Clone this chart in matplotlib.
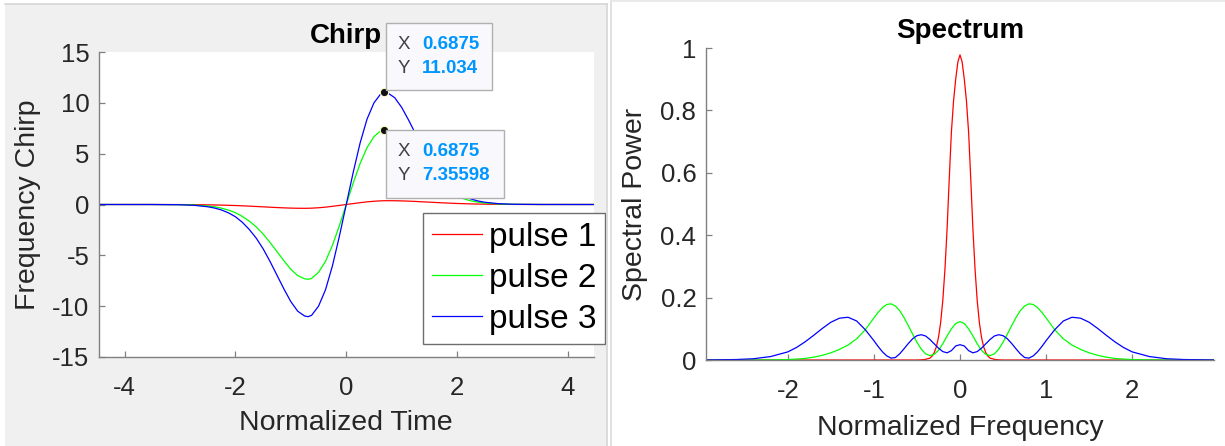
import matplotlib
matplotlib.use("Agg")
import matplotlib.pyplot as plt
from matplotlib.patches import Rectangle
from matplotlib.lines import Line2D
from matplotlib.transforms import IdentityTransform

plt.rcParams['font.family'] = ['Liberation Sans', 'DejaVu Sans']
plt.rcParams['axes.unicode_minus'] = False

# ---- chirp data ----
t_chirp = [-4.46, -3.5, -3.0, -2.75, -2.5, -2.375, -2.25, -2.125, -2.0, -1.875,
           -1.75, -1.625, -1.5, -1.375, -1.25, -1.125, -1.0, -0.875, -0.75, -0.6875,
           -0.625, -0.5, -0.375, -0.25, -0.125, 0.0,
           0.125, 0.25, 0.375, 0.5, 0.625, 0.6875, 0.75, 0.875, 1.0, 1.125,
           1.25, 1.375, 1.5, 1.625, 1.75, 1.875, 2.0, 2.125, 2.25, 2.375,
           2.5, 2.75, 3.0, 3.5, 4.46]
chirp_p1 = [0, -0.001, -0.006, -0.015, -0.033, -0.045, -0.06, -0.08, -0.1, -0.13,
            -0.16, -0.195, -0.23, -0.265, -0.3, -0.33, -0.355, -0.37, -0.375, -0.37,
            -0.36, -0.32, -0.26, -0.18, -0.09, 0.0,
            0.09, 0.18, 0.26, 0.32, 0.36, 0.37, 0.375, 0.37, 0.355, 0.33,
            0.3, 0.265, 0.23, 0.195, 0.16, 0.13, 0.1, 0.08, 0.06, 0.045,
            0.033, 0.015, 0.006, 0.001, 0]
chirp_p2 = [0, -0.001, -0.017, -0.053, -0.15, -0.23, -0.36, -0.55, -0.8, -1.17,
            -1.63, -2.2, -2.9, -3.73, -4.63, -5.53, -6.37, -7.0, -7.31, -7.35598,
            -7.27, -6.67, -5.6, -4.03, -2.1, 0.0,
            2.1, 4.03, 5.6, 6.67, 7.27, 7.35598, 7.31, 7.0, 6.37, 5.53,
            4.63, 3.73, 2.9, 2.2, 1.63, 1.17, 0.8, 0.55, 0.36, 0.23,
            0.15, 0.053, 0.017, 0.001, 0]
chirp_p3 = [0, -0.002, -0.025, -0.08, -0.22, -0.35, -0.54, -0.82, -1.2, -1.75,
            -2.45, -3.3, -4.35, -5.6, -6.95, -8.3, -9.55, -10.5, -10.97, -11.034,
            -10.9, -10.0, -8.4, -6.05, -3.15, 0.0,
            3.15, 6.05, 8.4, 10.0, 10.9, 11.034, 10.97, 10.5, 9.55, 8.3,
            6.95, 5.6, 4.35, 3.3, 2.45, 1.75, 1.2, 0.82, 0.54, 0.35,
            0.22, 0.08, 0.025, 0.002, 0]

# datatips
tip_x = [0.6875, 0.6875]
tip_y = [11.034, 7.35598]
tip_xtxt = ['0.6875', '0.6875']
tip_ytxt = ['11.034', '7.35598']

# ---- spectrum data ----
f_spec = [-2.95, -2.6, -2.4, -2.2, -2.0, -1.9, -1.8, -1.7, -1.6, -1.5,
          -1.4, -1.3, -1.2, -1.1, -1.0, -0.95, -0.9, -0.85, -0.8, -0.75,
          -0.7, -0.65, -0.6, -0.55, -0.5, -0.45, -0.4, -0.35, -0.3, -0.25,
          -0.2, -0.15, -0.1, -0.05, 0.0,
          0.05, 0.1, 0.15, 0.2, 0.25, 0.3, 0.35, 0.4, 0.45, 0.5,
          0.55, 0.6, 0.65, 0.7, 0.75, 0.8, 0.85, 0.9, 0.95, 1.0,
          1.1, 1.2, 1.3, 1.4, 1.5, 1.6, 1.7, 1.8, 1.9, 2.0,
          2.2, 2.4, 2.6, 2.95]
# pulse 1 is narrow, so it is read on a finer grid
f_red = [-2.95, -0.5, -0.45, -0.4, -0.35, -0.325, -0.3, -0.275, -0.25, -0.225,
         -0.2, -0.175, -0.15, -0.125, -0.1, -0.075, -0.05, -0.025, 0.0,
         0.025, 0.05, 0.075, 0.1, 0.125, 0.15, 0.175, 0.2, 0.225, 0.25,
         0.275, 0.3, 0.325, 0.35, 0.4, 0.45, 0.5, 2.95]
spec_p1 = [0, 0, 0.0005, 0.002, 0.006, 0.012, 0.023, 0.042, 0.072, 0.12,
           0.19, 0.29, 0.42, 0.58, 0.73, 0.83, 0.9, 0.955, 0.978,
           0.955, 0.9, 0.83, 0.73, 0.58, 0.42, 0.29, 0.19, 0.12, 0.072,
           0.042, 0.023, 0.012, 0.006, 0.002, 0.0005, 0, 0]
spec_p2 = [0, 0, 0.0001, 0.0004, 0.0015, 0.003, 0.005, 0.009, 0.015, 0.023,
           0.034, 0.048, 0.068, 0.097, 0.135, 0.153, 0.168, 0.178, 0.18, 0.173,
           0.158, 0.136, 0.11, 0.083, 0.057, 0.035, 0.02, 0.014, 0.018, 0.031,
           0.052, 0.077, 0.1, 0.117, 0.123,
           0.117, 0.1, 0.077, 0.052, 0.031, 0.018, 0.014, 0.02, 0.035, 0.057,
           0.083, 0.11, 0.136, 0.158, 0.173, 0.18, 0.178, 0.168, 0.153, 0.135,
           0.097, 0.068, 0.048, 0.034, 0.023, 0.015, 0.009, 0.005, 0.003, 0.0015,
           0.0004, 0.0001, 0, 0]
spec_p3 = [0.0002, 0.0015, 0.004, 0.011, 0.026, 0.04, 0.058, 0.079, 0.101, 0.121,
           0.134, 0.137, 0.125, 0.097, 0.062, 0.043, 0.026, 0.013, 0.006, 0.008,
           0.02, 0.036, 0.053, 0.068, 0.078, 0.081, 0.077, 0.066, 0.052, 0.038,
           0.027, 0.023, 0.03, 0.045, 0.049,
           0.045, 0.03, 0.023, 0.027, 0.038, 0.052, 0.066, 0.077, 0.081, 0.078,
           0.068, 0.053, 0.036, 0.02, 0.008, 0.006, 0.013, 0.026, 0.043, 0.062,
           0.097, 0.125, 0.137, 0.134, 0.121, 0.101, 0.079, 0.058, 0.04, 0.026,
           0.011, 0.004, 0.0015, 0.0002]

labels = ['pulse 1', 'pulse 2', 'pulse 3']
colors = ['#ff0000', '#00ff00', '#0000ff']

chirp_yticks = [-15, -10, -5, 0, 5, 10, 15]
chirp_xticks = [-4, -2, 0, 2, 4]
spec_xticks = [-2, -1, 0, 1, 2]
spec_yticks = [0, 0.2, 0.4, 0.6, 0.8, 1]
spec_yticklabels = ['0', '0.2', '0.4', '0.6', '0.8', '1']

W, H = 1225, 446
TXT = '#262626'
AXC = '#808080'

fig = plt.figure(figsize=(W / 100, H / 100), dpi=100, facecolor='white')

# grey panel behind the left plot + thin window borders
fig.patches.append(Rectangle((5 / W, 0), 602 / W, 442 / H, transform=fig.transFigure,
                             facecolor='#f0f0f0', edgecolor='none', zorder=-10))
fig.add_artist(Line2D([5 / W, 607 / W], [442 / H, 442 / H], color='#d6d6d6', lw=1.2))
fig.add_artist(Line2D([607 / W, 607 / W], [0, 442 / H], color='#d6d6d6', lw=1.2))
fig.add_artist(Line2D([610.5 / W, 610.5 / W], [0, 445 / H], color='#dcdcdc', lw=1.2))
fig.add_artist(Line2D([610.5 / W, 1], [445 / H, 445 / H], color='#e6e6e6', lw=1.2))


def style_axes(ax):
    ax.set_facecolor('white')
    for s in ['top', 'right']:
        ax.spines[s].set_visible(False)
    for s in ['left', 'bottom']:
        ax.spines[s].set_color(AXC)
        ax.spines[s].set_linewidth(1.0)
    ax.tick_params(direction='in', length=4, width=0.9, color=AXC,
                   labelsize=18.5, labelcolor=TXT)
    ax.tick_params(axis='y', pad=7)
    ax.tick_params(axis='x', pad=14)


# ---------------- Chirp ----------------
ax1 = fig.add_axes([99 / W, 89 / H, 494.5 / W, 305 / H])
style_axes(ax1)
for y, c, lab in zip([chirp_p1, chirp_p2, chirp_p3], colors, labels):
    ax1.plot(t_chirp, y, color=c, lw=0.9, label=lab)
ax1.set_xlim(-4.46, 4.46)
ax1.set_ylim(-15, 15)
ax1.set_xticks(chirp_xticks)
ax1.set_yticks(chirp_yticks)
ax1.set_xlabel('Normalized Time', fontsize=20.5, color=TXT)
ax1.set_ylabel('Frequency Chirp', fontsize=20.5, color=TXT)
ax1.xaxis.set_label_coords(0.5, -0.174)
ax1.yaxis.set_label_coords(-0.117, 0.5)
ax1.set_title('Chirp', fontsize=20, fontweight='bold', pad=6.7)

leg = ax1.legend(loc='upper left', bbox_to_anchor=(423 / W, 1 - 213 / H),
                 bbox_transform=fig.transFigure, fontsize=24, fancybox=False,
                 framealpha=1, edgecolor='#6e6e6e', borderaxespad=0,
                 borderpad=0.27, handlelength=1.5, handletextpad=0.2,
                 labelspacing=0.3)
leg.get_frame().set_linewidth(1.0)

# datatips
ax1.plot(tip_x, tip_y, 'o', color='#111111', ms=6, mec='#ffffc8', mew=0.8, zorder=6)
for i in range(len(tip_x)):
    px, py = ax1.transData.transform((tip_x[i], tip_y[i]))
    if i == 0:
        bx, by, bw, bh = px + 2, py + 2.7, 106, 67
    else:
        bx, by, bw, bh = px + 2, py - 68, 118, 68
    fig.add_artist(Rectangle((bx, by), bw, bh, transform=IdentityTransform(),
                             facecolor='#f9f9fd', edgecolor='#b0b0b0', lw=1.0, zorder=7))
    top = by + bh
    for row, (name, val) in enumerate([('X', tip_xtxt[i]), ('Y', tip_ytxt[i])]):
        yb = top - 26.5 - 24 * row
        fig.text(bx + 11, yb, name, transform=IdentityTransform(), fontsize=13.5,
                 color='#404040', va='baseline', ha='left', zorder=8)
        fig.text(bx + 35.5, yb, val, transform=IdentityTransform(), fontsize=13.5,
                 color='#0096ff', fontweight='bold', va='baseline', ha='left', zorder=8)

# ---------------- Spectrum ----------------
ax2 = fig.add_axes([706 / W, 86 / H, 508 / W, 312 / H])
style_axes(ax2)
ax2.plot(f_red, spec_p1, color=colors[0], lw=0.9)
ax2.plot(f_spec, spec_p2, color=colors[1], lw=0.9)
ax2.plot(f_spec, spec_p3, color=colors[2], lw=0.9)
ax2.set_xlim(-2.95, 2.95)
ax2.set_ylim(0, 1)
ax2.set_xticks(spec_xticks)
ax2.set_yticks(spec_yticks)
ax2.set_yticklabels(spec_yticklabels)
ax2.set_xlabel('Normalized Frequency', fontsize=20.5, color=TXT)
ax2.set_ylabel('Spectral Power', fontsize=20.5, color=TXT)
ax2.xaxis.set_label_coords(0.5, -0.176)
ax2.yaxis.set_label_coords(-0.114, 0.5)
ax2.set_title('Spectrum', fontsize=20, fontweight='bold', pad=7)

fig.savefig('out.png', dpi=100)
